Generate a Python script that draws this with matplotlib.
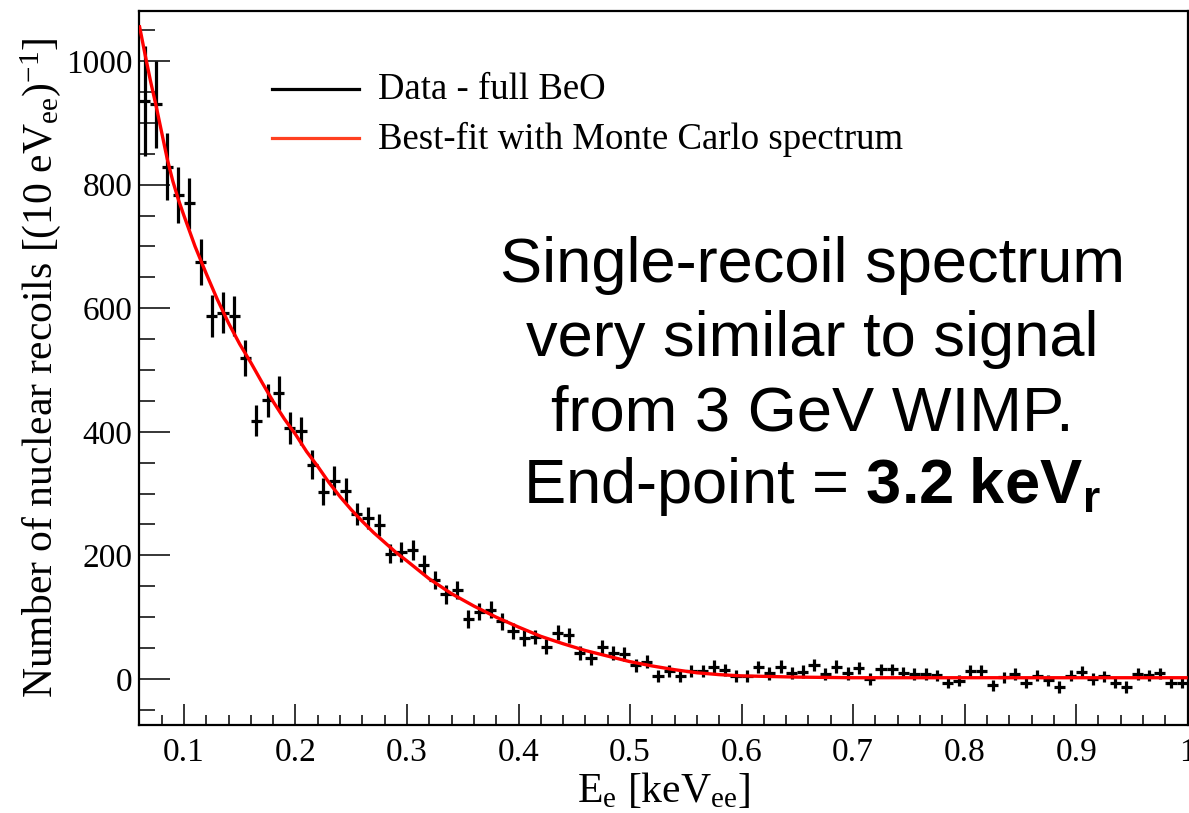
import numpy as np
import matplotlib
matplotlib.use("Agg")
import matplotlib.pyplot as plt
from matplotlib.lines import Line2D
from matplotlib.ticker import MultipleLocator

plt.rcParams['mathtext.fontset'] = 'custom'
plt.rcParams['mathtext.rm'] = 'Liberation Serif'
plt.rcParams['mathtext.it'] = 'Liberation Serif:italic'
plt.rcParams['mathtext.bf'] = 'Liberation Sans:bold'

# ---- data (histogram: 10 eV bins from 0.06 keVee) ----
bin_low = 0.06
bin_width = 0.01
counts = [935, 930, 829, 783, 770, 675, 587, 593, 587, 520,
          418, 451, 463, 406, 401, 347, 303, 321, 305, 267,
          260, 249, 203, 205, 209, 184, 160, 137, 144, 97,
          109, 112, 93, 77, 66, 68, 52, 75, 71, 42,
          34, 52, 42, 40, 22, 28, 5, 13, 5, 13,
          13, 20, 15, 5, 5, 19, 9, 20, 10, 12,
          23, 8, 20, 9, 18, 0, 16, 16, 10, 8,
          8, 6, -6, -3, 13, 13, -10, 3, 8, -6,
          5, -2, -13, 5, 12, 0, 4, -6, -13, 8,
          6, 9, -6, -6]
errors = [89, 70, 54, 45, 41, 37, 34, 33, 32, 29,
          25, 27, 27, 26, 23, 24, 22, 23, 21, 18,
          18, 18, 16, 16, 16, 16, 15, 15, 15, 14,
          14, 14, 13, 13, 13, 12, 12, 12, 12, 11,
          11, 11, 11, 11, 10, 10, 10, 10, 10, 10,
          10, 10, 10, 10, 10, 10, 10, 10, 10, 10,
          10, 10, 10, 10, 10, 9, 9, 9, 9, 9,
          9, 9, 9, 9, 9, 9, 9, 9, 9, 9,
          9, 9, 9, 9, 9, 9, 9, 9, 9, 9,
          9, 9, 9, 9]

# best-fit curve
fit_x = [0.06, 0.065, 0.07, 0.075, 0.08, 0.085, 0.09, 0.095, 0.10, 0.11,
         0.12, 0.13, 0.14, 0.15, 0.16, 0.17, 0.18, 0.19, 0.20, 0.21,
         0.22, 0.23, 0.24, 0.25, 0.26, 0.27, 0.28, 0.29, 0.30, 0.32,
         0.34, 0.36, 0.38, 0.40, 0.42, 0.44, 0.46, 0.48, 0.50, 0.52,
         0.54, 0.56, 0.58, 0.60, 0.65, 0.70, 0.80, 0.90, 1.00]
fit_y = [1058, 1012, 968, 928, 885, 842, 806, 776, 750, 700,
         656, 614, 576, 542, 512, 480, 449, 421, 396, 368,
         344, 318, 295, 274, 255, 237, 221, 205, 191, 162,
         138, 118, 100, 84, 69, 57, 46, 37, 28, 21,
         15, 10, 7, 5, 3, 2, 2, 2, 2]

xticks = [0.1, 0.2, 0.3, 0.4, 0.5, 0.6, 0.7, 0.8, 0.9, 1.0]
xticklabels = ['0.1', '0.2', '0.3', '0.4', '0.5', '0.6', '0.7', '0.8', '0.9', '1']
yticks = [0, 200, 400, 600, 800, 1000]

legend_labels = ['Data - full BeO', 'Best-fit with Monte Carlo spectrum']
annotation_lines = ['Single-recoil spectrum', 'very similar to signal',
                    'from 3 GeV WIMP.', r'End-point = $\mathbf{3.2\ keV_r}$']

# ---- figure ----
W, H = 1189, 813
fig = plt.figure(figsize=(W / 100, H / 100), dpi=100)
ax = fig.add_axes([139.3 / W, 88 / H, (1187.7 - 139.3) / W, (725 - 11) / H])

centers = bin_low + bin_width * (np.arange(len(counts)) + 0.5)
ax.errorbar(centers, counts, xerr=bin_width / 2, yerr=errors, fmt='none',
            ecolor='black', elinewidth=2.3, capsize=0, zorder=3)
ax.plot(fit_x, fit_y, color='#ff0000', lw=2.4, zorder=4, solid_capstyle='butt')

ax.set_xlim(0.06, 1.0)
ax.set_ylim(-74.5, 1081)

serif = 'Liberation Serif'
ax.set_xticks(xticks)
ax.set_xticklabels(xticklabels, fontfamily=serif, fontsize=24)
ax.xaxis.set_minor_locator(MultipleLocator(0.02))
ax.set_yticks(yticks)
ax.set_yticklabels([str(v) for v in yticks], fontfamily=serif, fontsize=24)
ax.yaxis.set_minor_locator(MultipleLocator(50))

ax.tick_params(axis='x', which='major', direction='in', length=15, width=1.1, pad=9)
ax.tick_params(axis='x', which='minor', direction='in', length=7.5, width=1.1)
ax.tick_params(axis='y', which='major', direction='in', length=22, width=1.1, pad=5)
ax.tick_params(axis='y', which='minor', direction='in', length=11.5, width=1.1)
for s in ax.spines.values():
    s.set_linewidth(1.6)

ax.set_xlabel(r'E$_{\mathrm{e}}$ [keV$_{\mathrm{ee}}$]', fontfamily=serif, fontsize=30, labelpad=2)
ax.set_ylabel(r'Number of nuclear recoils [(10 eV$_{\mathrm{ee}}$)$^{\mathrm{-1}}$]',
              fontfamily=serif, fontsize=30, labelpad=2)

# legend (manual, ROOT style)
leg_colors = ['black', '#ff4020']
leg_y = [89, 138]
for lab, col, yy in zip(legend_labels, leg_colors, leg_y):
    fig.add_artist(Line2D([272 / W, 359 / W], [1 - yy / H] * 2, color=col, lw=2.3,
                          transform=fig.transFigure))
    fig.text(378 / W, 1 - (yy + 1) / H, lab, fontfamily=serif, fontsize=26.5,
             va='center', ha='left')

# big annotation
baselines = [282, 356, 430, 503]
for line, yb in zip(annotation_lines, baselines):
    fig.text(812 / W, 1 - yb / H, line, fontfamily='Liberation Sans', fontsize=45.5,
             ha='center', va='baseline')

fig.savefig('out.png', dpi=100)
